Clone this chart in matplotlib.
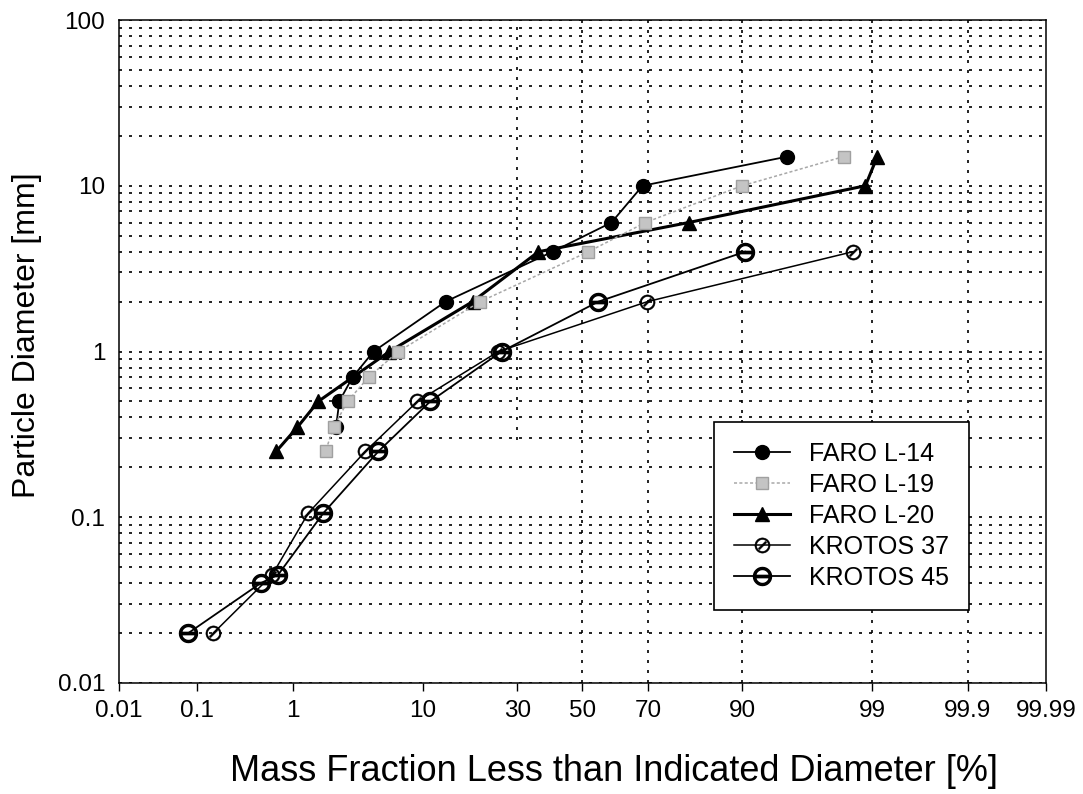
from statistics import NormalDist

import numpy as np
import matplotlib
matplotlib.use("Agg")
import matplotlib.pyplot as plt
from matplotlib.ticker import FixedLocator, NullLocator, LogLocator, NullFormatter

plt.rcParams["font.family"] = ["Liberation Sans", "DejaVu Sans"]
plt.rcParams["mathtext.fontset"] = "dejavusans"

# -----------------------------
# Data (diameter in mm, cumulative mass fraction in %)
# -----------------------------
L14_d = [15, 10, 6, 4, 2, 1, 0.7, 0.5, 0.35]
L14_p = [95.0, 68.5, 59.2, 40.5, 13.6, 4.68, 3.25, 2.55, 2.4]

L19_d = [15, 10, 6, 4, 2, 1, 0.7, 0.5, 0.35, 0.25]
L19_p = [98.2, 90.0, 69.3, 51.9, 20.6, 6.98, 4.30, 2.97, 2.29, 1.96]

L20_d = [15, 10, 6, 4, 2, 1, 0.5, 0.35, 0.25]
L20_p = [99.1, 98.84, 80.3, 36.2, 18.9, 6.07, 1.70, 1.11, 0.70]

K37_d = [4, 2, 1, 0.5, 0.25, 0.106, 0.045, 0.02]
K37_p = [98.5, 69.9, 25.0, 9.27, 4.08, 1.39, 0.64, 0.153]

K45_d = [4, 2, 1, 0.5, 0.25, 0.106, 0.045, 0.04, 0.02]
K45_p = [90.4, 55.1, 25.8, 11.1, 5.08, 1.88, 0.73, 0.49, 0.078]

X_TICKS = [0.01, 0.1, 1, 10, 30, 50, 70, 90, 99, 99.9, 99.99]
X_TICK_LABELS = ["0.01", "0.1", "1", "10", "30", "50", "70", "90", "99", "99.9", "99.99"]
Y_TICKS = [0.01, 0.1, 1, 10, 100]
Y_TICK_LABELS = ["0.01", "0.1", "1", "10", "100"]

# -----------------------------
# Normal probability scale
# -----------------------------
_nd = NormalDist()
_ppf = np.vectorize(_nd.inv_cdf, otypes=[float])
_cdf = np.vectorize(_nd.cdf, otypes=[float])


def prob_fwd(p):
    p = np.clip(np.asarray(p, dtype=float) / 100.0, 1e-12, 1 - 1e-12)
    return _ppf(p)


def prob_inv(z):
    return _cdf(np.asarray(z, dtype=float)) * 100.0


GRID = dict(color="black", linewidth=1.2, linestyle=(0, (1.8, 4.2)))

fig = plt.figure(figsize=(10.83, 7.94), dpi=100)
ax = fig.add_axes([0.1099, 0.1398, 0.8559, 0.8350])

ax.set_xscale("function", functions=(prob_fwd, prob_inv))
ax.set_yscale("log")
ax.set_xlim(0.01, 99.99)
ax.set_ylim(0.01, 100)

# grid
ax.yaxis.set_minor_locator(LogLocator(base=10, subs=np.arange(2, 10)))
ax.yaxis.set_minor_formatter(NullFormatter())
ax.grid(True, which="both", axis="y", **GRID)
for v in [50, 70, 90, 99, 99.9]:
    ax.axvline(v, **GRID, zorder=1)
ax.axvline(30, ymin=0.367, ymax=1, **GRID, zorder=1)

# series
ax.plot(L14_p, L14_d, color="black", lw=1.3, marker="o", ms=10,
        mfc="black", mec="black", label="FARO L-14", zorder=3)
ax.plot(L19_p, L19_d, color="#a8a8a8", lw=1.1, ls=(0, (2, 1.5)), marker="s", ms=8.5,
        mfc="#c4c4c4", mec="#a0a0a0", label="FARO L-19", zorder=4)
ax.plot(L20_p, L20_d, color="black", lw=2.2, marker="^", ms=10,
        mfc="black", mec="black", label="FARO L-20", zorder=3)
ax.plot(K37_p, K37_d, color="black", lw=1.1, marker=r"$\oslash$", ms=11,
        mfc="black", mec="black", mew=0.3, label="KROTOS 37", zorder=5)
ax.plot(K45_p, K45_d, color="black", lw=1.3, marker=r"$\ominus$", ms=13,
        mfc="black", mec="black", mew=1.0, label="KROTOS 45", zorder=6)

# ticks
ax.xaxis.set_major_locator(FixedLocator(X_TICKS))
ax.xaxis.set_minor_locator(NullLocator())
ax.set_xticklabels(X_TICK_LABELS)
ax.yaxis.set_major_locator(FixedLocator(Y_TICKS))
ax.set_yticklabels(Y_TICK_LABELS)
ax.tick_params(axis="x", which="major", direction="out", length=6, width=1,
               labelsize=17.5, pad=6)
ax.tick_params(axis="y", which="major", direction="out", length=0, labelsize=17.5, pad=10)
ax.tick_params(axis="y", which="minor", length=0)

for s in ax.spines.values():
    s.set_linewidth(1.1)
    s.set_color("black")

ax.set_xlabel("Mass Fraction Less than Indicated Diameter [%]", fontsize=26)
ax.xaxis.set_label_coords(0.534, -0.107)
ax.set_ylabel("Particle Diameter [mm]", fontsize=23, labelpad=4)
ax.yaxis.set_label_coords(-0.083, 0.525)

leg = ax.legend(loc="upper left", bbox_to_anchor=(0.642, 0.394), borderaxespad=0,
                fontsize=18, frameon=True, fancybox=False, framealpha=1,
                edgecolor="black", handlelength=2.25, labelspacing=0.28,
                borderpad=0.8, handletextpad=0.76)
leg.get_frame().set_linewidth(1.2)

fig.savefig("out.png", dpi=100)
